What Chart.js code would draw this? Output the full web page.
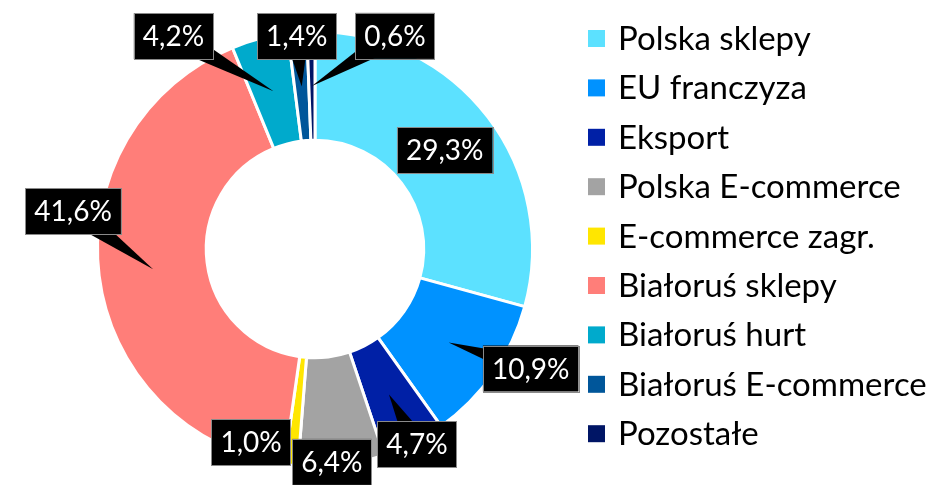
<!DOCTYPE html>
<html>
<head>
<meta charset="utf-8">
<script src="https://cdn.jsdelivr.net/npm/chart.js@4.4.1/dist/chart.umd.min.js"></script>
<style>
  html, body { margin: 0; padding: 0; background: #fff; }
  #wrap { width: 945px; height: 485px; position: relative; }
</style>
</head>
<body>
<div id="wrap"><canvas id="salesChart"></canvas></div>
<script>
// categories and shares (%)
const categories = ['Polska sklepy', 'EU franczyza', 'Eksport', 'Polska E-commerce', 'E-commerce zagr.',
                    'Białoruś sklepy', 'Białoruś hurt', 'Białoruś E-commerce', 'Pozostałe'];
const shares = [29.3, 10.9, 4.7, 6.4, 1.0, 41.6, 4.2, 1.4, 0.6];
const sliceColors = ['#5CE1FF', '#0092FF', '#0020A6', '#A3A3A3', '#FFE600',
                     '#FF7E79', '#00AACC', '#00569A', '#001565'];

// where each callout box sits, relative to the middle of its slice (wedge drawn or not)
const labelOffsets = [[0, 0], [82, 26], [28, 50], [-3, 51], [-46, 31], [-80, -58], [-100, -55], [-5, -50], [83, -50]];
const showWedge = [false, true, true, false, false, true, true, true, true];

const fontName = 'Lato, "Open Sans", sans-serif';

// black callout boxes with a wedge pointing at the slice
const calloutPlugin = {
    id: 'callouts',
    afterDatasetsDraw(chart) {
        const ctx = chart.ctx;
        const meta = chart.getDatasetMeta(0);
        ctx.save();
        ctx.font = '28px ' + fontName;
        meta.data.forEach((arc, i) => {
            const p = arc.getProps(['x', 'y', 'startAngle', 'endAngle', 'innerRadius', 'outerRadius'], true);
            const mid = (p.startAngle + p.endAngle) / 2;
            const r = (p.innerRadius + p.outerRadius) / 2;
            const tx = p.x + Math.cos(mid) * r;
            const ty = p.y + Math.sin(mid) * r;
            const [dx, dy] = labelOffsets[i];
            const bx = tx + dx, by = ty + dy;
            const text = shares[i].toFixed(1).replace('.', ',') + '%';
            const w = ctx.measureText(text).width + 18;
            const h = 46;

            if (showWedge[i]) {
                const len = Math.hypot(dx, dy);
                const nx = -dy / len, ny = dx / len;
                ctx.beginPath();
                ctx.moveTo(bx + nx * 12, by + ny * 12);
                ctx.lineTo(tx, ty);
                ctx.lineTo(bx - nx * 12, by - ny * 12);
                ctx.closePath();
                ctx.fillStyle = '#000';
                ctx.fill();
            }
            ctx.fillStyle = '#000';
            ctx.fillRect(bx - w / 2, by - h / 2, w, h);
            ctx.strokeStyle = '#8a8a8a';
            ctx.lineWidth = 1;
            ctx.strokeRect(Math.round(bx - w / 2) + 0.5, Math.round(by - h / 2) + 0.5, Math.round(w), h);

            ctx.fillStyle = '#fff';
            ctx.textAlign = 'center';
            ctx.textBaseline = 'middle';
            ctx.fillText(text, bx, by + 1);
        });
        ctx.restore();
    }
};

// legend on the right, drawn by hand for exact spacing
const legendPlugin = {
    id: 'sideLegend',
    afterDraw(chart) {
        const ctx = chart.ctx;
        ctx.save();
        ctx.font = '33px ' + fontName;
        ctx.textAlign = 'left';
        ctx.textBaseline = 'alphabetic';
        categories.forEach((name, i) => {
            const cy = 38.5 + i * 49.4;
            ctx.fillStyle = sliceColors[i];
            ctx.fillRect(588, cy - 8.5, 17, 17);
            ctx.fillStyle = '#000';
            ctx.fillText(name, 618, cy + 11.5);
        });
        ctx.restore();
    }
};

const ctx = document.getElementById('salesChart').getContext('2d');
new Chart(ctx, {
    type: 'doughnut',
    data: {
        labels: categories,
        datasets: [{
            data: shares,
            backgroundColor: sliceColors,
            borderColor: '#ffffff',
            borderWidth: 3,
            hoverOffset: 0
        }]
    },
    options: {
        responsive: true,
        maintainAspectRatio: false,
        animation: false,
        cutout: '50%',
        layout: { padding: { left: 96, right: 411, top: 30, bottom: 17 } },
        plugins: {
            legend: { display: false },
            tooltip: { enabled: false }
        }
    },
    plugins: [calloutPlugin, legendPlugin]
});
</script>
</body>
</html>
